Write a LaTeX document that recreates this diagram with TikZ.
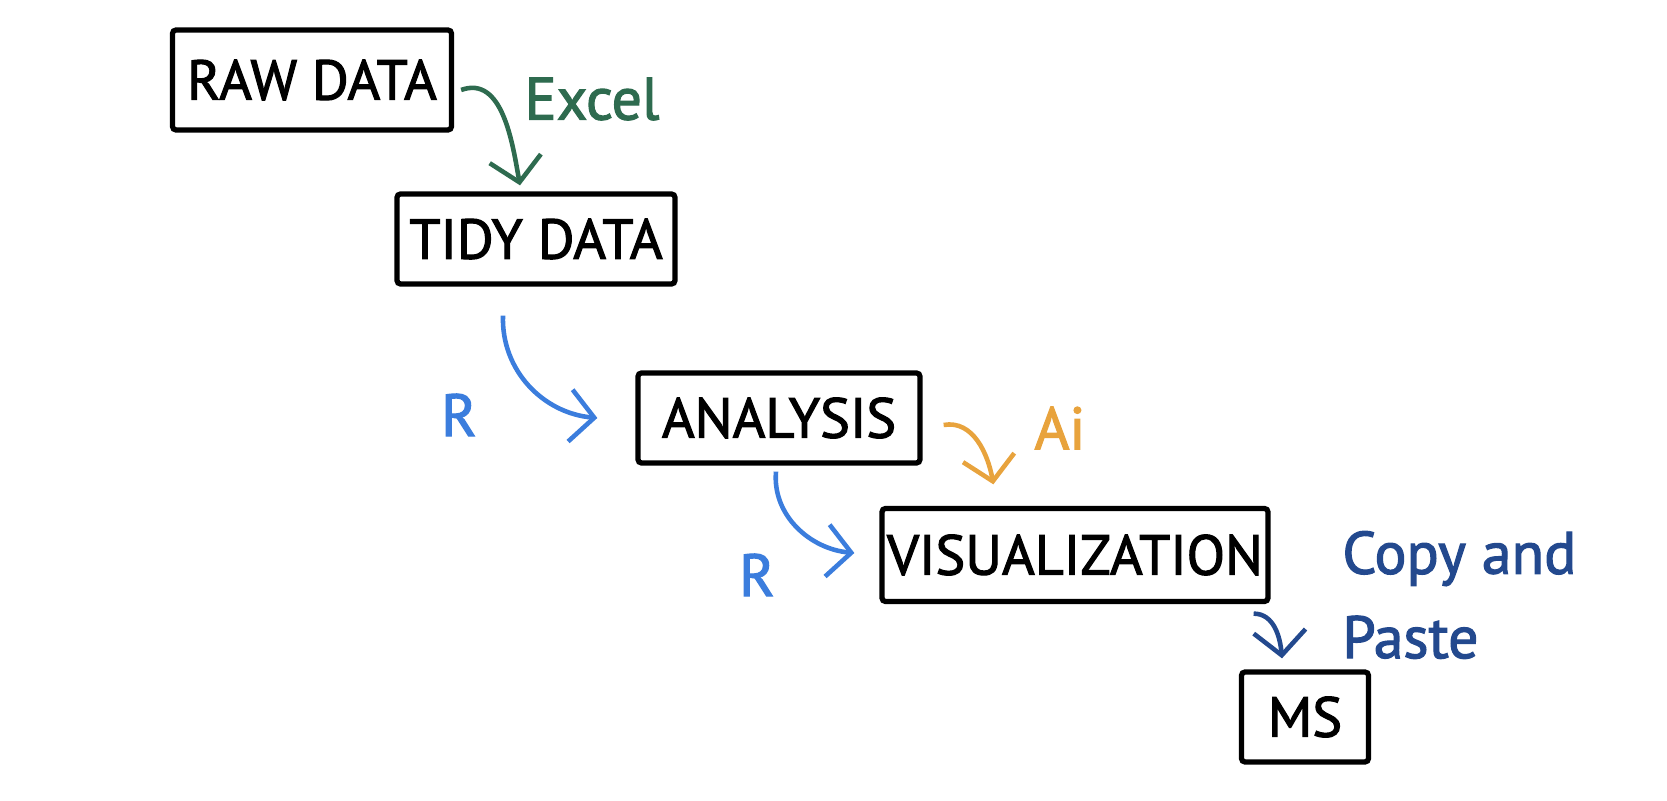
\documentclass[tikz,border=0pt]{standalone}
\usepackage{fontspec}
\setmainfont{PT Sans}[BoldFont={PT Sans}, BoldFeatures={FakeBold=2}]
\usetikzlibrary{arrows.meta}
\definecolor{excelgreen}{HTML}{2E6B4F}
\definecolor{rblue}{HTML}{3B7DDD}
\definecolor{aiorange}{HTML}{E8A33D}
\definecolor{pastenavy}{HTML}{23498E}

\begin{document}
\begin{tikzpicture}[
  stage/.style={draw, line width=1.5pt, rounded corners=1pt, minimum height=0.9cm, inner sep=0pt, font=\fontsize{16}{20}\selectfont\bfseries},
  tool/.style={font=\fontsize{17}{24}\selectfont\bfseries},
  flow/.style={line width=1.3pt, -{Straight Barb[length=2.4mm,width=5.2mm]}}
]
            \useasboundingbox (0,0) rectangle (16.67,-8.01);
            \node[stage, minimum width=2.79cm, minimum height=1.0cm] (raw) at (3.12,-0.80) {RAW DATA};
            \node[stage, minimum width=2.78cm] (tidy) at (5.36,-2.39) {TIDY DATA};
            \node[stage, minimum width=2.82cm] (ana) at (7.79,-4.18) {ANALYSIS};
            \node[stage, minimum width=3.86cm, minimum height=0.93cm] (vis) at (10.75,-5.55) {VISUALIZATION};
            \node[stage, minimum width=1.27cm] (ms) at (13.05,-7.17) {MS};
            \node[tool, text=excelgreen] (excel) at (5.92,-0.99) {Excel};
            \node[tool, text=rblue] (rone) at (4.59,-4.15) {R};
            \node[tool, text=rblue] (rtwo) at (7.57,-5.75) {R};
            \node[tool, text=aiorange] (ai) at (10.60,-4.28) {Ai};
            \node[tool, text=pastenavy, align=left, anchor=west] (copy) at (13.30,-5.95) {Copy and\\Paste};
            \draw[flow, excelgreen] ([xshift=0.07cm,yshift=-0.10cm]raw.east) to[out=20, in=100] ([xshift=-0.16cm,yshift=0.06cm]tidy.north);
            \draw[flow, rblue] ([xshift=-0.33cm,yshift=-0.29cm]tidy.south) to[out=-92, in=175] ([xshift=-0.38cm]ana.west);
            \draw[flow, aiorange] ([xshift=0.21cm,yshift=-0.07cm]ana.east) to[out=10, in=100] ([xshift=1.14cm,yshift=0.215cm]vis.north west);
            \draw[flow, rblue] ([xshift=-0.03cm,yshift=-0.06cm]ana.south) to[out=-95, in=175] ([xshift=-0.25cm,yshift=0.02cm]vis.west);
            \draw[flow, pastenavy] ([xshift=-0.17cm,yshift=-0.095cm]vis.south east) to[out=0, in=95] ([xshift=-0.23cm,yshift=0.11cm]ms.north);
        \end{tikzpicture}
\end{document}
